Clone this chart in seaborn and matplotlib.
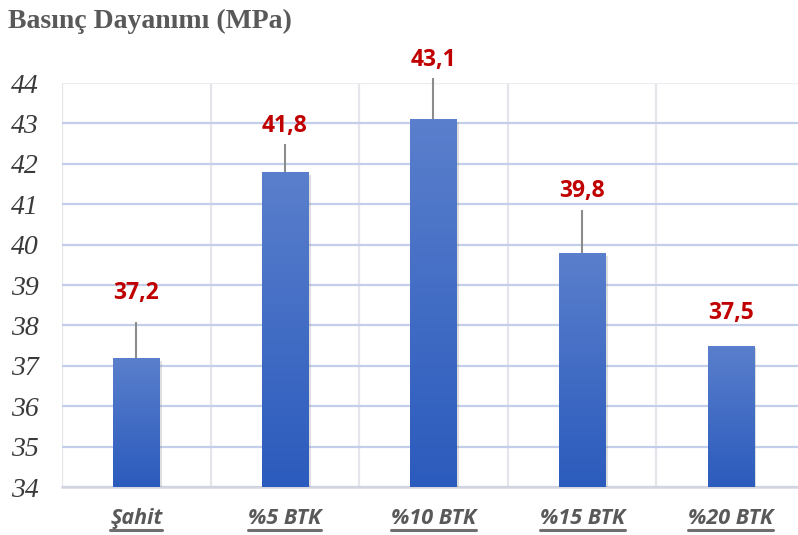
import numpy as np
import pandas as pd
import matplotlib
matplotlib.use("Agg")
import matplotlib.pyplot as plt
from matplotlib.colors import LinearSegmentedColormap
from matplotlib.lines import Line2D
import matplotlib.patheffects as pe
import seaborn as sns

# Compressive strength per mix
categories = ["Şahit", "%5 BTK", "%10 BTK", "%15 BTK", "%20 BTK"]
values = [37.2, 41.8, 43.1, 39.8, 37.5]
value_labels = ["37,2", "41,8", "43,1", "39,8", "37,5"]
y_ticks = [34, 35, 36, 37, 38, 39, 40, 41, 42, 43, 44]

# Where each label sits and where its leader line ends (data units)
label_y = [38.8, 42.93, 44.57, 41.32, 38.3]
leader_top = [38.08, 42.5, 44.12, 40.85, None]

df = pd.DataFrame({"category": categories, "value": values})

sns.set_theme(style="white")
plt.rcParams["font.family"] = ["DejaVu Sans"]

fig = plt.figure(figsize=(7.98, 5.35), dpi=100)
ax = fig.add_axes([0.0777, 0.0897, 0.931, 0.755])

sns.barplot(data=df, x="category", y="value", color="#3a66c4", width=0.31,
            ax=ax, zorder=3)

ax.set_xlim(-0.5, 4.5)
ax.set_ylim(34, 44)

# vertical gradient fill on every bar
grad_cmap = LinearSegmentedColormap.from_list("bar", ["#2b5bbd", "#5a7fcc"])
grad = np.linspace(0, 1, 256).reshape(-1, 1)
for p in ax.patches:
    x0, w, h = p.get_x(), p.get_width(), p.get_height()
    p.set_edgecolor("none")
    p.set_path_effects([pe.SimplePatchShadow(offset=(2, -2), alpha=0.25,
                                             shadow_rgbFace="#7f7f7f"),
                        pe.Normal()])
    im = ax.imshow(grad, cmap=grad_cmap, origin="lower", aspect="auto",
                   extent=[x0, x0 + w, 34, h], zorder=4)
    im.set_clip_path(p)
ax.set_xlim(-0.5, 4.5)
ax.set_ylim(34, 44)

# grid
ax.set_axisbelow(True)
ax.set_yticks(y_ticks)
ax.set_yticklabels([str(t) for t in y_ticks])
ax.set_xticks(range(len(categories)))
ax.set_xticks(np.arange(-0.5, 4.6, 0.5), minor=True)
ax.grid(axis="y", which="major", color="#c3cfea", linewidth=1.6, zorder=0)
ax.grid(axis="x", which="minor", color="#e5e5ec", linewidth=1.6, zorder=0)
ax.grid(axis="x", which="major", visible=False)
ax.get_ygridlines()[-1].set_color("#ececf2")
for s in ["top", "right", "left"]:
    ax.spines[s].set_visible(False)
ax.spines["bottom"].set_color("#d3d6de")
ax.spines["bottom"].set_linewidth(1.8)

ax.tick_params(axis="both", which="both", length=0)
ax.tick_params(axis="y", pad=17)
ax.tick_params(axis="x", pad=15)
for t in ax.get_yticklabels():
    t.set_fontfamily("Liberation Serif")
    t.set_fontstyle("italic")
    t.set_fontsize(20)
    t.set_color("#3a3a3a")
for t in ax.get_xticklabels():
    t.set_fontfamily("Open Sans")
    t.set_fontstyle("italic")
    t.set_fontweight("bold")
    t.set_fontsize(15.5)
    t.set_color("#595959")
ax.set_xlabel("")
ax.set_ylabel("")

# value labels with leader lines
for i, (v, lab, ly, lt) in enumerate(zip(values, value_labels, label_y, leader_top)):
    ax.text(i, ly, lab, ha="center", va="center", fontsize=16.5,
            fontweight="bold", color="#c00000", fontfamily="Open Sans",
            zorder=6, clip_on=False)
    if lt is not None:
        ax.plot([i, i], [v, lt], color="#8c8c8c", linewidth=1.5,
                zorder=5, clip_on=False, solid_capstyle="butt")

fig.text(0.01, 0.96, "Basınç Dayanımı (MPa)", ha="left", va="center",
         fontfamily="Liberation Serif", fontweight="bold", fontsize=20,
         color="#595959")

# underline the category labels
fig.canvas.draw()
renderer = fig.canvas.get_renderer()
W, H = fig.bbox.width, fig.bbox.height
for t in ax.get_xticklabels():
    bb = t.get_window_extent(renderer)
    yline = bb.y0 - 1
    fig.add_artist(Line2D([bb.x0 / W, bb.x1 / W], [yline / H, yline / H],
                          color="#6f6f6f", linewidth=2.2))

fig.savefig("out.png", dpi=100, facecolor="white")
